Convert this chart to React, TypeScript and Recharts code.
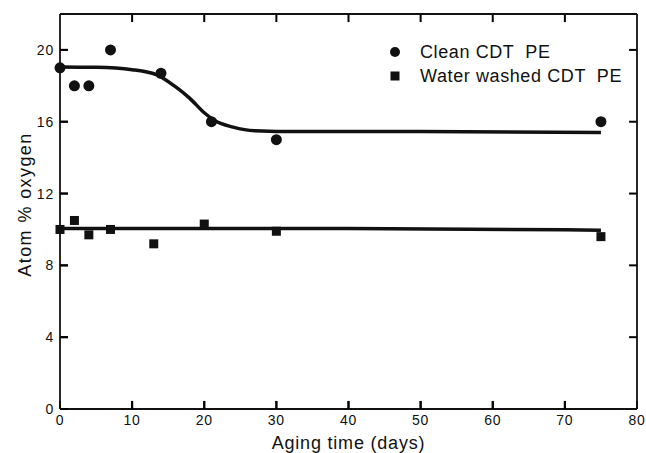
import React from "react";
import {
  ComposedChart,
  Line,
  Scatter,
  XAxis,
  YAxis,
  Legend,
  ReferenceLine,
} from "recharts";

// measured points
const cleanDays = [0, 2, 4, 7, 14, 21, 30, 75];
const cleanOxygen = [19.0, 18.0, 18.0, 20.0, 18.7, 16.0, 15.0, 16.0];
const washedDays = [0, 2, 4, 7, 13, 20, 30, 75];
const washedOxygen = [10.0, 10.5, 9.7, 10.0, 9.2, 10.3, 9.9, 9.6];

// hand-drawn fit curves
const cleanFitDays = [0, 5, 10, 13.5, 16, 18, 20, 21.5, 24, 27, 33, 50, 75];
const cleanFitOxygen = [19.05, 19.03, 18.9, 18.6, 17.95, 17.3, 16.5, 16.05, 15.7, 15.5, 15.45, 15.45, 15.4];
const washedFitDays = [0, 40, 70, 75];
const washedFitOxygen = [10.05, 10.05, 9.98, 9.95];

const xTicks = [0, 10, 20, 30, 40, 50, 60, 70, 80];
const yTicks = [0, 4, 8, 12, 16, 20];
const seriesNames = ["Clean CDT PE", "Water washed CDT PE"];

const X_MIN = 0;
const X_MAX = 80;
const Y_MIN = 0;
const Y_MAX = 22;

const zip = (xs: number[], ys: number[]) => xs.map((x, i) => ({ x, y: ys[i] }));

const clean = zip(cleanDays, cleanOxygen);
const washed = zip(washedDays, washedOxygen);
const cleanFit = zip(cleanFitDays, cleanFitOxygen);
const washedFit = zip(washedFitDays, washedFitOxygen);

const FONT = "'Liberation Sans', Arial, sans-serif";
const INK = "#111";
const frame = { stroke: INK, strokeWidth: 1.8 };
const tickMark = { stroke: "#000", strokeWidth: 2 };
const tickFont = { fontSize: 14, fontFamily: FONT, fill: INK, letterSpacing: 0.8 };

// inward tick marks on all four sides (length in data units, ~8px)
const TICK_DX = 1.1;
const TICK_DY = 0.45;
const innerX = xTicks.filter((t) => t > X_MIN && t < X_MAX);
const innerY = yTicks.filter((t) => t > Y_MIN);
const tickSegments = [
  ...innerY.map((t) => [{ x: X_MAX, y: t }, { x: X_MAX - TICK_DX, y: t }]),
  ...innerY.map((t) => [{ x: X_MIN + TICK_DX, y: t }, { x: X_MIN, y: t }]),
  ...innerX.map((t) => [{ x: t, y: Y_MIN + TICK_DY }, { x: t, y: Y_MIN }]),
  ...innerX.map((t) => [{ x: t, y: Y_MAX - TICK_DY }, { x: t, y: Y_MAX }]),
];

const NoLabel = () => null;

const Dot = (props: any) => <circle cx={props.cx} cy={props.cy} r={5.5} fill={INK} />;
const Square = (props: any) => (
  <rect x={props.cx - 4.5} y={props.cy - 4.5} width={9} height={9} fill={INK} />
);

const LegendBox = () => (
  <div style={{ fontFamily: FONT, fontSize: 18, color: INK, letterSpacing: 0.6 }}>
    {seriesNames.map((name, i) => (
      <div key={name} style={{ display: "flex", alignItems: "center", height: 24 }}>
        <svg width={14} height={14} style={{ marginRight: 18 }}>
          {i === 0 ? <circle cx={7} cy={7} r={5} fill={INK} /> : <rect x={2.5} y={2.5} width={9} height={9} fill={INK} />}
        </svg>
        <span style={{ whiteSpace: "pre" }}>{name.replace(" PE", "  PE")}</span>
      </div>
    ))}
  </div>
);

export default function App() {
  return (
    <div style={{ position: "absolute", left: 0, top: 0, background: "#fff" }}>
      <ComposedChart width={646} height={453} margin={{ top: 0, right: 0, bottom: 0, left: 0 }}>
        <XAxis
          xAxisId="bottom"
          dataKey="x"
          type="number"
          domain={[X_MIN, X_MAX]}
          ticks={xTicks}
          height={44}
          tickSize={-8}
          tickMargin={14}
          tickLine={tickMark}
          tick={tickFont}
          axisLine={frame}
          label={({ viewBox }: any) => (
            <text
              x={viewBox.x + viewBox.width / 2}
              y={viewBox.y + 40}
              textAnchor="middle"
              fontSize={18}
              fontFamily={FONT}
              fill={INK}
              letterSpacing={0.8}
            >
              Aging time (days)
            </text>
          )}
        />
        <XAxis
          xAxisId="top"
          orientation="top"
          type="number"
          domain={[X_MIN, X_MAX]}
          ticks={innerX}
          height={14}
          tickSize={-8}
          tickLine={tickMark}
          tick={<NoLabel />}
          axisLine={frame}
        />
        <YAxis
          yAxisId="left"
          dataKey="y"
          type="number"
          domain={[Y_MIN, Y_MAX]}
          ticks={yTicks}
          width={60}
          tickSize={-8}
          tickMargin={14}
          tickLine={tickMark}
          tick={tickFont}
          axisLine={frame}
          label={({ viewBox }: any) => {
            const cx = viewBox.x + 25;
            const cy = viewBox.y + viewBox.height / 2 - 7;
            return (
              <text
                x={cx}
                y={cy}
                transform={`rotate(-90, ${cx}, ${cy})`}
                textAnchor="middle"
                dominantBaseline="central"
                fontSize={18}
                fontFamily={FONT}
                fill={INK}
                letterSpacing={1.4}
              >
                Atom % oxygen
              </text>
            );
          }}
        />
        <YAxis
          yAxisId="right"
          orientation="right"
          type="number"
          domain={[Y_MIN, Y_MAX]}
          ticks={innerY}
          width={9}
          tickSize={-8}
          tickLine={tickMark}
          tick={<NoLabel />}
          axisLine={frame}
        />
        <Legend
          layout="vertical"
          align="center"
          verticalAlign="middle"
          content={<LegendBox />}
          wrapperStyle={{ top: 40, left: 388, width: 260 }}
        />
        {tickSegments.map((seg, i) => (
          <ReferenceLine
            key={`tick-${i}`}
            xAxisId="bottom"
            yAxisId="left"
            segment={seg}
            ifOverflow="visible"
            stroke="#000"
            strokeWidth={2}
          />
        ))}
        <Line
          xAxisId="bottom"
          yAxisId="left"
          data={cleanFit}
          dataKey="y"
          type="monotone"
          stroke={INK}
          strokeWidth={3.5}
          dot={false}
          legendType="none"
          isAnimationActive={false}
        />
        <Line
          xAxisId="bottom"
          yAxisId="left"
          data={washedFit}
          dataKey="y"
          type="monotone"
          stroke={INK}
          strokeWidth={3.5}
          dot={false}
          legendType="none"
          isAnimationActive={false}
        />
        <Scatter
          xAxisId="bottom"
          yAxisId="left"
          name={seriesNames[0]}
          data={clean}
          dataKey="y"
          shape={<Dot />}
          isAnimationActive={false}
        />
        <Scatter
          xAxisId="bottom"
          yAxisId="left"
          name={seriesNames[1]}
          data={washed}
          dataKey="y"
          shape={<Square />}
          isAnimationActive={false}
        />
      </ComposedChart>
    </div>
  );
}
